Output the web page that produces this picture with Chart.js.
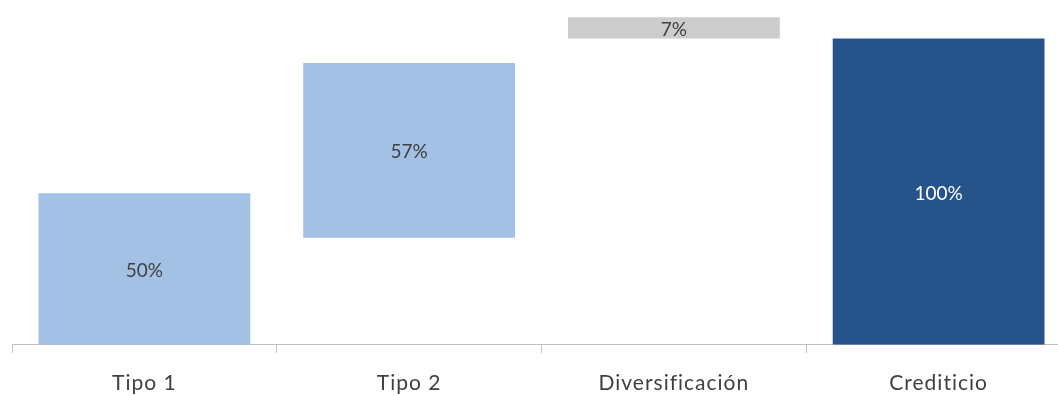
<!DOCTYPE html>
<html>
<head>
<meta charset="utf-8">
<script src="https://cdn.jsdelivr.net/npm/chart.js@4"></script>
<style>
  html, body { margin: 0; padding: 0; background: #fff; overflow: hidden; }
  #clip { width: 1058px; height: 396px; overflow: hidden; }
  #wrap { position: relative; width: 1072px; height: 414px; }
</style>
</head>
<body>
<div id="clip"><div id="wrap"><canvas id="chart"></canvas></div></div>
<script>
"use strict";

// waterfall data (start / end of each floating bar)
const categories = ["Tipo 1", "Tipo 2", "Diversificación", "Crediticio"];
const barStart = [0, 35, 100, 0];
const barEnd = [49.5, 92, 107, 100];
const barLabels = ["50%", "57%", "7%", "100%"];
const barColors = ["#A3C1E5", "#A3C1E5", "#CCCCCC", "#26538A"];
const labelColors = ["#404040", "#404040", "#404040", "#FFFFFF"];

const fontFamily = "Lato, 'Open Sans', sans-serif";

// the category labels in the original are spaced out a bit
const spacing = {
  id: "spacing",
  beforeDraw(chart) {
    chart.ctx.letterSpacing = "1px";
  },
};

// draw the value text in the middle of each bar
const centerLabels = {
  id: "centerLabels",
  afterDatasetsDraw(chart) {
    const ctx = chart.ctx;
    const meta = chart.getDatasetMeta(0);
    ctx.save();
    ctx.letterSpacing = "0px";
    ctx.font = "19px " + fontFamily;
    ctx.textAlign = "center";
    ctx.textBaseline = "middle";
    meta.data.forEach(function (bar, i) {
      const mid = (bar.y + bar.base) / 2 + 2;
      ctx.fillStyle = labelColors[i];
      ctx.fillText(barLabels[i], bar.x, mid);
    });
    ctx.restore();
  },
};

const data = {
  labels: categories,
  datasets: [
    {
      data: categories.map(function (c, i) { return [barStart[i], barEnd[i]]; }),
      backgroundColor: barColors,
      borderWidth: 0,
      borderSkipped: false,
      barPercentage: 0.8,
      categoryPercentage: 1,
    },
  ],
};

const config = {
  type: "bar",
  data: data,
  options: {
    responsive: true,
    maintainAspectRatio: false,
    animation: false,
    layout: { padding: { left: 12, right: 1, top: 8, bottom: 0 } },
    plugins: {
      legend: { display: false },
      tooltip: { enabled: false },
    },
    scales: {
      x: {
        grid: {
          display: true,
          offset: true,
          drawOnChartArea: false,
          drawTicks: true,
          tickLength: 8,
          color: "#BFBFBF",
        },
        border: { display: true, color: "#BFBFBF", width: 1 },
        ticks: {
          color: "#404040",
          padding: 18,
          font: { family: fontFamily, size: 21 },
        },
      },
      y: {
        display: false,
        min: 0,
        max: 110,
      },
    },
  },
  plugins: [spacing, centerLabels],
};

const myChart = new Chart(document.getElementById("chart"), config);
</script>
</body>
</html>
